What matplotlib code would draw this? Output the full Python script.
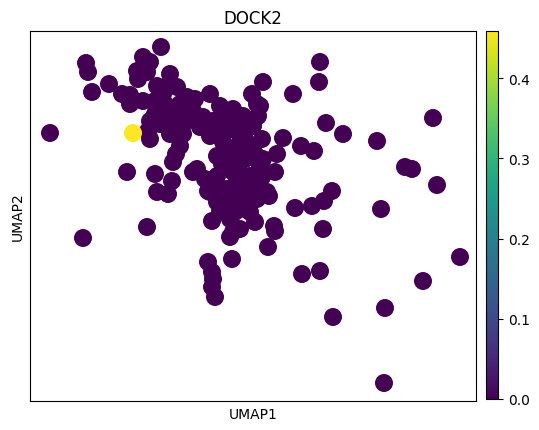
import numpy as np
import matplotlib
matplotlib.use("Agg")
import matplotlib.pyplot as plt

# UMAP coordinates of cells (arbitrary units)
umap1 = [2.0, 5.6, 5.8, 6.2, 7.9, 5.3, 9.7, 11.7, 13.1, 11.3, 12.0, 10.7, 11.7, 9.2,
         10.0, 11.3, 14.0, 13.7, 14.7, 15.7, 18.0, 12.5, 13.0, 12.0, 11.8, 13.7, 15.0,
         16.3, 17.3, 18.3, 14.0, 15.3, 22.2, 26.3, 22.7, 16.0, 19.3, 21.3, 22.3, 20.3,
         18.0, 19.3, 21.0, 22.0, 25.3, 27.1, 28.4, 24.7, 23.3, 24.5, 23.0, 20.0, 18.7,
         16.7, 18.7, 20.3, 22.0, 18.0, 19.7, 21.3, 23.7, 18.7, 23.9, 22.7, 26.5, 18.2,
         20.0, 22.5, 24.4, 24.5, 20.3, 21.0, 20.0, 23.8, 20.2, 17.8, 18.2, 18.3, 18.2,
         18.5, 27.2, 29.0, 29.6, 31.3, 34.7, 40.3, 37.5, 38.2, 40.7, 28.2, 29.4, 30.2,
         29.3, 35.1, 43.0, 39.3, 35.5, 30.3, 35.4, 29.0, 28.9, 23.3, 23.0, 12.0, 15.0,
         14.3, 12.5, 14.2, 16.3, 12.7, 13.8, 17.8, 14.6, 20.5, 21.5, 22.8, 18.5, 19.5,
         21.0, 23.2, 19.8, 21.5, 19.2, 20.8, 17.5, 21.0, 19.5, 21.5, 19.0, 20.5, 22.0,
         16.6, 17.0, 15.5, 14.5, 13.3, 12.7, 16.5, 19.0, 20.3, 20.7, 22.5,
         23.2, 10.8, 10.0, 13.0, 12.5, 14.2, 21.0, 22.5, 19.5, 18.5, 13.5, 15.0,
         20.5, 22.0, 20.0, 21.5]
umap2 = [26.8, 33.8, 32.9, 30.9, 31.7, 16.3, 22.9, 17.4, 35.4, 34.4, 33.9, 33.0, 32.9, 30.7,
         29.7, 30.0, 32.7, 31.5, 31.4, 30.4, 30.7, 30.0, 29.0, 28.0, 27.0, 28.0, 28.7,
         29.0, 28.4, 28.0, 26.7, 26.7, 30.7, 30.7, 29.7, 29.2, 28.2, 28.5, 27.5, 27.2,
         26.5, 25.9, 25.9, 25.5, 26.3, 25.5, 25.0, 24.7, 24.2, 22.9, 23.5, 24.5, 24.5,
         23.2, 22.5, 22.9, 22.5, 20.9, 21.2, 21.2, 20.9, 19.9, 20.5, 20.2, 19.3, 18.0,
         18.2, 17.9, 17.5, 17.0, 16.9, 17.2, 16.4, 15.4, 14.2, 13.9, 12.9, 12.2, 11.4,
         10.4, 12.7, 13.0, 27.8, 26.7, 26.0, 28.3, 23.4, 23.2, 21.6, 19.5, 20.0, 21.0,
         17.2, 19.2, 14.4, 12.0, 9.3, 8.4, 1.8, 33.9, 31.9, 31.9, 29.5, 26.2, 25.5,
         23.9, 22.7, 22.0, 22.9, 20.9, 20.7, 21.0, 24.7, 28.7, 27.7, 28.5, 27.2, 26.9,
         26.7, 26.2, 25.2, 24.2, 23.7, 23.4, 22.2, 20.2, 19.7, 19.2, 19.0, 18.9, 18.9,
         28.2, 27.4, 27.9, 29.2, 30.7, 31.5, 30.2, 29.5, 29.2, 22.2, 21.7,
         22.4, 32.2, 30.6, 27.7, 28.7, 27.7, 24.7, 24.7, 20.7, 21.7, 29.7, 29.7,
         19.7, 20.2, 27.7, 26.2]
dock2 = [0.0] * len(umap1)

# the single expressing cell
pos_umap1 = [10.3]
pos_umap2 = [26.8]
pos_dock2 = [0.459]

x = np.array(umap1 + pos_umap1)
y = np.array(umap2 + pos_umap2)
c = np.array(dock2 + pos_dock2)

fig = plt.figure(figsize=(5.39, 4.31), dpi=100)
ax = fig.add_axes([30/539, 29/431, 446/539, 370/431])
sc = ax.scatter(x, y, c=c, cmap='viridis', vmin=0, vmax=c.max(), s=168,
                linewidths=0, plotnonfinite=True)
ax.set_xlim(0, 44.6)
ax.set_ylim(0, 37.0)
ax.set_xticks([])
ax.set_yticks([])
ax.set_xlabel('UMAP1')
ax.set_ylabel('UMAP2')
ax.set_title('DOCK2')

cax = fig.add_axes([486/539, 31/431, 12/539, 368/431])
cb = fig.colorbar(sc, cax=cax)
cb.set_ticks([0.0, 0.1, 0.2, 0.3, 0.4])

fig.savefig('out.png', dpi=100)
